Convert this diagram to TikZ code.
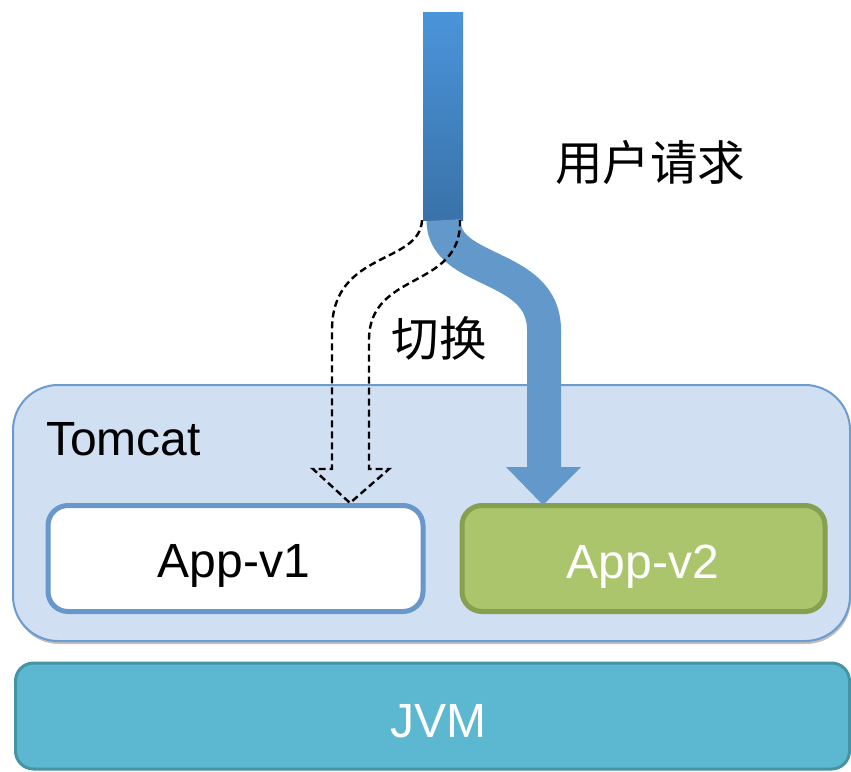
\documentclass[tikz,border=0pt]{standalone}
\usepackage{fontspec}
\setmainfont{Liberation Sans}
\newfontfamily\cjk{Noto Sans CJK SC}
\usetikzlibrary{shadows}
\definecolor{tcfill}{HTML}{D0E0F2}
\definecolor{tcline}{HTML}{6C9BD2}
\definecolor{apponeline}{HTML}{6797CB}
\definecolor{apptwofill}{HTML}{ABC56D}
\definecolor{apptwoline}{HTML}{87A04F}
\definecolor{jvmfill}{HTML}{5BB8D0}
\definecolor{jvmline}{HTML}{4594A6}
\definecolor{bandcol}{HTML}{6398CB}
\definecolor{bartop}{HTML}{4A94DA}
\definecolor{barbot}{HTML}{3A72A9}
\tikzset{
  bigtext/.style={font=\fontsize{48}{52}\selectfont, inner sep=0pt},
  cjktext/.style={font=\cjk\fontsize{47.5}{52}\selectfont, inner sep=0pt},
  tcbox/.style={draw=tcline, fill=tcfill, line width=2pt, rounded corners=45pt,
    inner sep=0pt, drop shadow={shadow xshift=1pt, shadow yshift=-3pt, opacity=0.25, fill=black}},
  appbox/.style={line width=5pt, rounded corners=20pt, inner sep=0pt,
    minimum height=106pt},
  jvmbox/.style={draw=jvmline, fill=jvmfill, line width=3pt, rounded corners=18pt, inner sep=0pt},
  barbox/.style={top color=bartop, bottom color=barbot, draw=none, inner sep=0pt,
    minimum width=40pt, minimum height=208pt},
  band/.style={draw=bandcol, line width=34pt},
  dashline/.style={draw=black, line width=2.4pt, dash pattern=on 7pt off 4pt},
}
\begin{document}
\begin{tikzpicture}[x=1pt,y=-1pt]
\useasboundingbox (0,0) rectangle (851,771);

% JVM
\node[jvmbox, minimum width=834pt, minimum height=106pt] (jvm) at (432.5,716) {};
\node[bigtext, text=white, anchor=base] (jvmlabel) at (438,737) {JVM};

% Tomcat container
\node[tcbox, minimum width=837pt, minimum height=256pt] (tomcat) at (431.5,513) {};
\node[bigtext, anchor=base west] (tomcatlabel) at (46,455) {Tomcat};

% Apps
\node[appbox, draw=apponeline, fill=white, minimum width=375pt] (app1) at (235.5,558.5) {};
\node[bigtext, anchor=base] (app1label) at (234,577) {App-v1};
\node[appbox, draw=apptwoline, fill=apptwofill, minimum width=363pt] (app2) at (643.5,558.5) {};
\node[bigtext, text=white, anchor=base] (app2label) at (643,578) {App-v2};

% request bar
\node[barbox] (bar) at (443,116) {};

% labels
\node[cjktext] (req) at (650,162) {用户请求};
\node[cjktext] (switch) at (439,338) {切换};

% solid curved arrow to App-v2
\coordinate (bandtop) at ([xshift=0.5pt]bar.south);
\coordinate (bandbend) at (544,330);
\coordinate (bandend) at (544,468);
\draw[band] (bandtop) .. controls (443.5,275) and (544,262) .. (bandbend) -- (bandend);
\fill[bandcol] (506,467) -- (581,467) -- (543,505) -- cycle;

% dashed outline arrow to App-v1
\coordinate (dl) at ([xshift=-21pt]bar.south);
\coordinate (dr) at ([xshift=17pt]bar.south);
\coordinate (dtip) at ([xshift=114.5pt]app1.north);
\draw[dashline] (dl) .. controls (420,265) and (332,250) .. (332,330)
  -- (332,469) -- (313,469) -- (dtip) -- (389,469) -- (369,469) -- (369,340)
  .. controls (369,270) and (462,290) .. (dr);
\end{tikzpicture}
\end{document}
